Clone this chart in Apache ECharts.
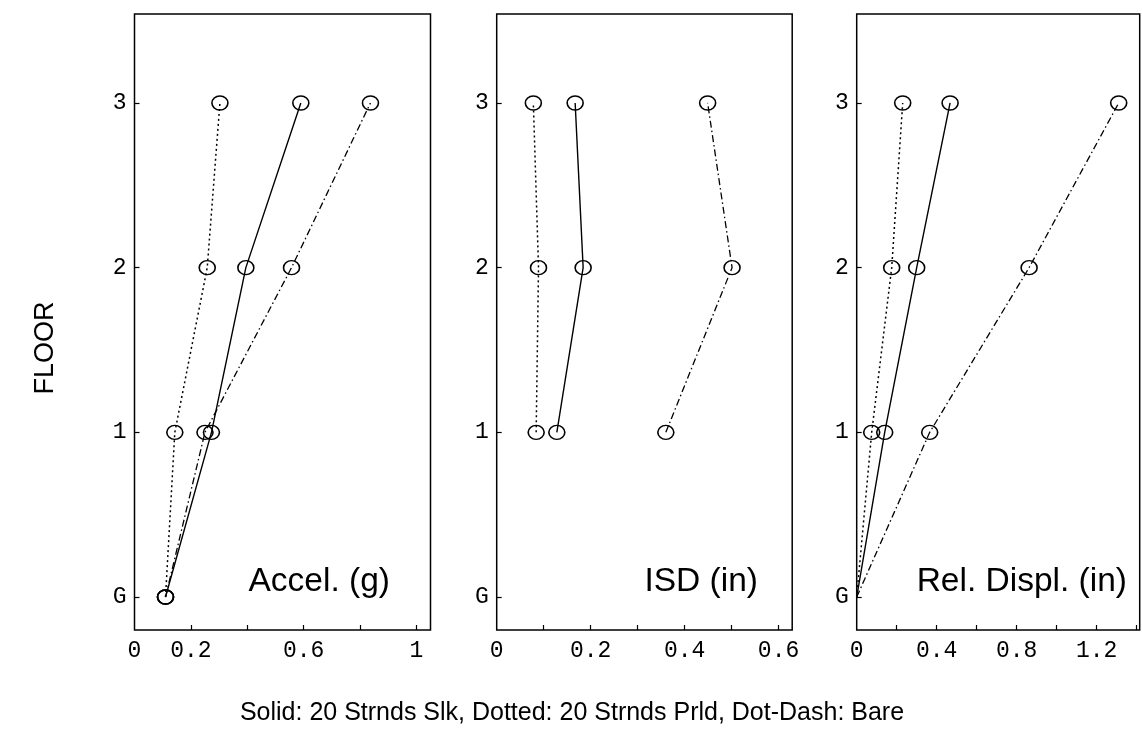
<!DOCTYPE html>
<html><head><meta charset="utf-8">
<script src="https://cdn.jsdelivr.net/npm/echarts@6/dist/echarts.min.js"></script>
<style>html,body{margin:0;padding:0;background:#fff}#c{width:1142px;height:756px}</style>
</head><body><div id="c"></div>
<script>
// Floors (y values) and their labels
const floors = [0, 1, 2, 3];
const floorLabels = ['G', '1', '2', '3'];

// Panel 1: Accel. (g), floors G..3
const accelSolid   = [0.11, 0.273, 0.395, 0.59];
const accelDotted  = [0.11, 0.143, 0.258, 0.303];
const accelDotDash = [0.11, 0.25, 0.557, 0.837];

// Panel 2: ISD (in), floors 1..3
const isdFloors  = [1, 2, 3];
const isdSolid   = [0.128, 0.184, 0.167];
const isdDotted  = [0.084, 0.089, 0.078];
const isdDotDash = [0.36, 0.501, 0.449];

// Panel 3: Rel. Displ. (in), floors G..3 (G point drawn without marker)
const dispSolid   = [0, 0.14, 0.30, 0.467];
const dispDotted  = [0, 0.075, 0.175, 0.23];
const dispDotDash = [0, 0.365, 0.862, 1.31];

// Tick values / labels
const xTicks1 = [0.2, 0.4, 0.6, 0.8, 1.0];
const xLabels1 = [0, 0.2, 0.6, 1];
const xTicks2 = [0.1, 0.2, 0.3, 0.4, 0.5, 0.6];
const xLabels2 = [0, 0.2, 0.4, 0.6];
const xTicks3 = [0.2, 0.4, 0.6, 0.8, 1.0, 1.2, 1.4];
const xLabels3 = [0, 0.4, 0.8, 1.2];

const panelTitles = ['Accel. (g)', 'ISD (in)', 'Rel. Displ. (in)'];
const yTitle = 'FLOOR';
const caption = 'Solid: 20 Strnds Slk, Dotted: 20 Strnds Prld, Dot-Dash: Bare';

const chart = echarts.init(document.getElementById('c'), null, {renderer: 'canvas'});

const grids = [
  {left: 134.5, top: 14, width: 296, height: 616},
  {left: 496.7, top: 14, width: 295.5, height: 616},
  {left: 856.7, top: 14, width: 283, height: 616}
].map(g => Object.assign({show: true, borderColor: '#000', borderWidth: 1.5, backgroundColor: 'transparent'}, g));

const xMax = [1.05, 0.629, 1.415];
const xTickSets = [xTicks1, xTicks2, xTicks3];
const xLabelSets = [xLabels1, xLabels2, xLabels3];
const monoFont = '"Liberation Mono", "DejaVu Sans Mono", monospace';
const sansFont = '"Liberation Sans", Arial, sans-serif';

const xAxes = [0, 1, 2].map(i => ({
  type: 'value', gridIndex: i, min: 0, max: xMax[i], position: 'bottom',
  axisLine: {show: false, onZero: false},
  splitLine: {show: false},
  axisTick: {show: true, inside: true, length: 5, lineStyle: {color: '#000', width: 1.2}, customValues: xTickSets[i]},
  axisLabel: {
    show: true, customValues: xLabelSets[i], margin: 9,
    fontFamily: monoFont, fontSize: 23, color: '#000',
    formatter: v => String(Math.round(v * 10) / 10)
  }
}));

const yAxes = [0, 1, 2].map(i => ({
  type: 'value', gridIndex: i, min: -0.2, max: 3.54, position: 'left',
  axisLine: {show: false, onZero: false},
  splitLine: {show: false},
  axisTick: {show: true, inside: true, length: 5, lineStyle: {color: '#000', width: 1.2}, customValues: floors},
  axisLabel: {
    show: true, customValues: floors, margin: 8,
    fontFamily: monoFont, fontSize: 23, color: '#000',
    formatter: v => floorLabels[Math.round(v)]
  }
}));

const styles = {
  solid:   {type: 'solid', width: 1.4},
  dotted:  {type: [2, 3], width: 1.5},
  dotdash: {type: [7, 3, 1.5, 3], width: 1.3}
};

function mk(xIdx, xs, ys, style, noMarkerAtZero) {
  return {
    type: 'line', xAxisIndex: xIdx, yAxisIndex: xIdx,
    data: xs.map((x, k) => {
      const item = {value: [x, ys[k]]};
      if (noMarkerAtZero && ys[k] === 0) item.symbol = 'none';
      return item;
    }),
    symbol: 'circle', symbolSize: [16, 14],
    itemStyle: {color: 'rgba(0,0,0,0)', borderColor: '#000', borderWidth: 1.5},
    lineStyle: Object.assign({color: '#000'}, styles[style]),
    silent: true, animation: false, z: 2
  };
}

const series = [
  mk(0, accelSolid, floors, 'solid'),
  mk(0, accelDotted, floors, 'dotted'),
  mk(0, accelDotDash, floors, 'dotdash'),
  mk(1, isdSolid, isdFloors, 'solid'),
  mk(1, isdDotted, isdFloors, 'dotted'),
  mk(1, isdDotDash, isdFloors, 'dotdash'),
  mk(2, dispSolid, floors, 'solid', true),
  mk(2, dispDotted, floors, 'dotted', true),
  mk(2, dispDotDash, floors, 'dotdash', true)
];

const titleRights = [390, 758, 1127];
const graphic = panelTitles.map((t, i) => ({
  type: 'text', right: 1142 - titleRights[i], top: 565,
  style: {text: t, fontFamily: sansFont, fontSize: 33.5, fill: '#000'}
}));
graphic.push({
  type: 'text', x: 46, y: 348, rotation: Math.PI / 2,
  style: {text: yTitle, fontFamily: sansFont, fontSize: 27, fill: '#000', align: 'center', verticalAlign: 'middle'}
});
graphic.push({
  type: 'text', x: 572, y: 713,
  style: {text: caption, fontFamily: sansFont, fontSize: 25, fill: '#000', align: 'center', verticalAlign: 'middle'}
});

chart.setOption({
  animation: false,
  backgroundColor: '#fff',
  grid: grids, xAxis: xAxes, yAxis: yAxes, series: series, graphic: graphic
});
</script></body></html>
